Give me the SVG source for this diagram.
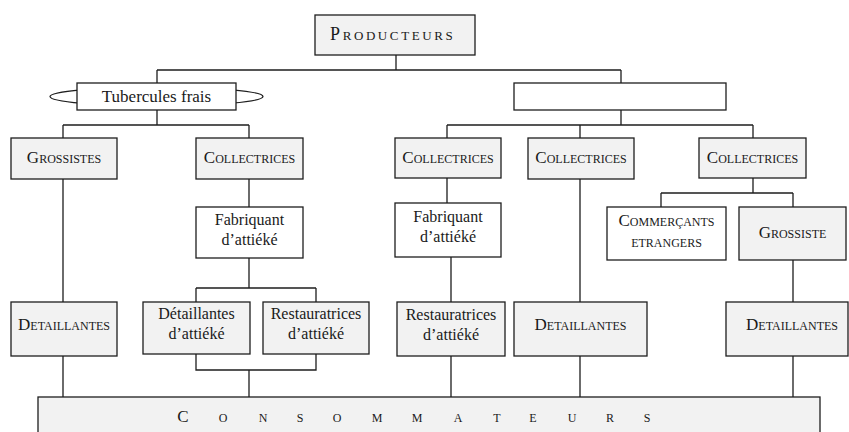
<svg xmlns="http://www.w3.org/2000/svg" width="849" height="432" viewBox="0 0 849 432">
<style>
.bx{stroke:#1e1e1e;stroke-width:1.3}
.g{fill:#f2f2f2}
.w{fill:#ffffff}
.t{font-family:"Liberation Serif","Times New Roman",serif;fill:#1a1a1a;text-anchor:middle}
.n{font-size:16px}
.sc{font-size:17px}
.s{font-size:12px}
.cn{fill:none;stroke:#1e1e1e;stroke-width:1.3}
</style>
<rect width="849" height="432" fill="#ffffff"/>
<g id="connectors" class="cn">
<path d="M396 55V70M157 70H621M157 70V83M621 70V83"/>
<path d="M157 110V125M63 125H249M63 125V138M249 125V138"/>
<path d="M621 110V125M447 125H753M447 125V138M580 125V138M753 125V138"/>
<path d="M63 179V302M63 356V397"/>
<path d="M249 179V207M249 258V288M196 288H316M196 288V302M316 288V302"/>
<path d="M196 354V370H316V354M249 370V397"/>
<path d="M447 178V203M451 257V302M451 356V397"/>
<path d="M580 179V302M580 356V397"/>
<path d="M753 178V193M661 193H793M661 193V207M793 193V207M793 260V302M793 356V397"/>
</g>
<g id="producteurs">
<rect class="bx g" x="315" y="15" width="160" height="40"/>
<text class="t" x="330" y="40" style="text-anchor:start;letter-spacing:2.6px"><tspan font-size="18px">P</tspan><tspan font-size="13px">RODUCTEURS</tspan></text>
</g>
<g id="tubercules">
<ellipse cx="156.5" cy="96.5" rx="106.5" ry="9.5" fill="none" stroke="#1e1e1e" stroke-width="1.3"/>
<rect class="bx w" x="77" y="83" width="159" height="27"/>
<text class="t" x="156.5" y="102" font-size="17px">Tubercules frais</text>
</g>
<g id="vide">
<rect class="bx w" x="514" y="83" width="212" height="27"/>
</g>
<g id="grossistes">
<rect class="bx g" x="11" y="138" width="106" height="41"/>
<text class="t" x="64" y="163"><tspan class="sc">G</tspan><tspan class="s">ROSSISTES</tspan></text>
</g>
<g id="collectrices1">
<rect class="bx g" x="196" y="138" width="107" height="41"/>
<text class="t" x="249.5" y="163"><tspan class="sc">C</tspan><tspan class="s">OLLECTRICES</tspan></text>
</g>
<g id="collectrices2">
<rect class="bx g" x="395" y="138" width="106" height="40"/>
<text class="t" x="448" y="163"><tspan class="sc">C</tspan><tspan class="s">OLLECTRICES</tspan></text>
</g>
<g id="collectrices3">
<rect class="bx g" x="528" y="138" width="106" height="41"/>
<text class="t" x="581" y="163"><tspan class="sc">C</tspan><tspan class="s">OLLECTRICES</tspan></text>
</g>
<g id="collectrices4">
<rect class="bx g" x="699" y="138" width="107" height="40"/>
<text class="t" x="752.5" y="163"><tspan class="sc">C</tspan><tspan class="s">OLLECTRICES</tspan></text>
</g>
<g id="fabriquant1">
<rect class="bx w" x="196" y="207" width="107" height="51"/>
<text class="t n" x="249.5" y="225">Fabriquant</text>
<text class="t n" x="249.5" y="245">d’attiéké</text>
</g>
<g id="fabriquant2">
<rect class="bx w" x="395" y="203" width="106" height="54"/>
<text class="t n" x="448" y="222">Fabriquant</text>
<text class="t n" x="448" y="242">d’attiéké</text>
</g>
<g id="commercants">
<rect class="bx w" x="607" y="207" width="119" height="53"/>
<text class="t" x="666.5" y="226"><tspan class="sc">C</tspan><tspan class="s">OMMERÇANTS</tspan></text>
<text class="t s" x="666.5" y="247">ETRANGERS</text>
</g>
<g id="grossiste">
<rect class="bx g" x="739" y="207" width="107" height="53"/>
<text class="t" x="792.5" y="238"><tspan class="sc">G</tspan><tspan class="s">ROSSISTE</tspan></text>
</g>
<g id="detaillantes1">
<rect class="bx g" x="11" y="302" width="106" height="54"/>
<text class="t" x="64" y="330"><tspan class="sc">D</tspan><tspan class="s">ETAILLANTES</tspan></text>
</g>
<g id="detaillantes-attieke">
<rect class="bx g" x="143" y="302" width="107" height="52"/>
<text class="t n" x="196.5" y="319">Détaillantes</text>
<text class="t n" x="196.5" y="339">d’attiéké</text>
</g>
<g id="restauratrices1">
<rect class="bx g" x="263" y="302" width="106" height="52"/>
<text class="t n" x="316" y="319">Restauratrices</text>
<text class="t n" x="316" y="339">d’attiéké</text>
</g>
<g id="restauratrices2">
<rect class="bx g" x="397" y="302" width="108" height="54"/>
<text class="t n" x="451" y="320">Restauratrices</text>
<text class="t n" x="451" y="340">d’attiéké</text>
</g>
<g id="detaillantes2">
<rect class="bx g" x="514" y="302" width="133" height="54"/>
<text class="t" x="580.5" y="330"><tspan class="sc">D</tspan><tspan class="s">ETAILLANTES</tspan></text>
</g>
<g id="detaillantes3">
<rect class="bx g" x="726" y="302" width="122" height="54"/>
<text class="t" x="792" y="330"><tspan class="sc">D</tspan><tspan class="s">ETAILLANTES</tspan></text>
</g>
<g id="consommateurs">
<rect class="bx g" x="38" y="397" width="782" height="45"/>
<text class="t" x="183 223 263 300 337 377 417 458 497 533 572 610 647" y="422" font-size="12px"><tspan font-size="17px">C</tspan>ONSOMMATEURS</text>
</g>
</svg>
